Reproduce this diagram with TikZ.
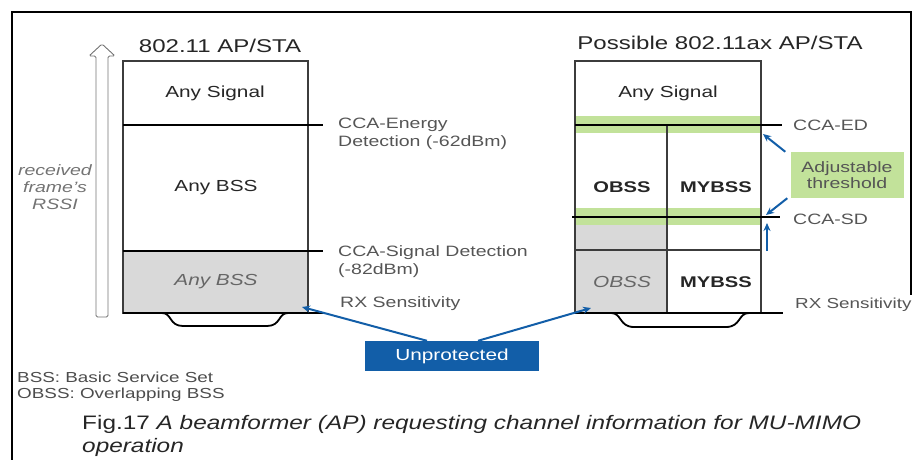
\documentclass[tikz,border=0pt]{standalone}
\usepackage{fontspec}
\setmainfont[FakeStretch=1.3]{Liberation Sans}
\newfontfamily\capfont[FakeStretch=1.25]{Liberation Sans}
\usepackage{tikz}
\usetikzlibrary{arrows}
\usetikzlibrary{arrows.meta}

\definecolor{cblue}{RGB}{18,94,168}
\definecolor{cgreen}{RGB}{194,226,154}
\definecolor{cgray}{RGB}{217,217,217}
\definecolor{cline}{RGB}{60,60,60}
\definecolor{clabel}{RGB}{85,85,85}

\begin{document}
\begin{tikzpicture}[x=1pt,y=-1pt]
	\useasboundingbox (0,0) rectangle (914,460);
	
	\tikzstyle{title}=[font=\fontsize{18.5}{20}\selectfont,text=black!85,anchor=base,inner sep=0pt]
	\tikzstyle{boxtext}=[font=\fontsize{16}{18}\selectfont,text=black!85,inner sep=0pt]
	\tikzstyle{boxbold}=[font=\fontsize{15.5}{18}\bfseries,text=black!85,inner sep=0pt]
	\tikzstyle{boxital}=[font=\fontsize{16}{18}\itshape,text=black!60,inner sep=0pt]
	\tikzstyle{names}=[font=\fontsize{15}{18}\selectfont,text=clabel,anchor=west,align=left,inner sep=0pt]
	\tikzstyle{cca}=[line width=2.2pt,black]
	\tikzstyle{outline}=[line width=1.3pt,cline]
	\tikzstyle{bluearrow}=[-{Stealth[length=8pt,width=7pt]},line width=2pt,cblue]
	
	%Frame
	\draw[line width=2pt] (12,460) -- (12,12) -- (911,12) -- (911,295);
	
	%RSSI Arrow
	\draw[line width=0.9pt,black!55,rounded corners=1.5pt] (96,317) -- (96,56) -- (89,56) -- (102,44) -- (115,56) -- (108,56) -- (108,317) -- cycle;
	\node[font=\fontsize{15}{17}\itshape,text=black!55,align=center,inner sep=0pt] (rssi) at (55,187) {received\\frame's\\RSSI};
	
	%Left Column - Fills
	\fill[cgray] (123,251) rectangle (308,313);
	\draw[outline] (123,61) rectangle (308,313);
	
	%Left Column - Levels
	\foreach \y in {125,251}
	\draw[cca] (123,\y) -- (323,\y);
	\draw[cca] (123,313) -- (323,313);
	\draw[line width=1.8pt] (162,313) .. controls (172,313) and (169,326) .. (183,326) -- (267,326) .. controls (281,326) and (278,313) .. (288,313);
	
	%Left Column - Texts
	\node[title] (L-title) at (220,53) {802.11 AP/STA};
	\node[boxtext] (L-any) at (215,93) {Any Signal};
	\node[boxtext] (L-bss) at (216,188) {Any BSS};
	\node[boxital] (L-low) at (216,282) {Any BSS};
	
	%Left Column - Labels
	\node[names] (L-ed) at (338,134) {CCA-Energy\\Detection (-62dBm)};
	\node[names] (L-sd) at (338,262) {CCA-Signal Detection\\(-82dBm)};
	\node[names] (L-rx) at (340,304) {RX Sensitivity};
	
	%Right Column - Fills
	\fill[cgray] (575,217) rectangle (667,313);
	\foreach \y in {116,208}
	\fill[cgreen] (575,\y) rectangle (761,\y+17);
	\draw[outline] (575,61) rectangle (761,313);
	\draw[outline] (667,125) -- (667,313);
	\draw[outline] (575,250) -- (761,250);
	
	%Right Column - Levels
	\draw[cca] (575,125) -- (782,125);
	\draw[cca] (572,217) -- (780,217);
	\draw[cca] (575,313) -- (783,313);
	\draw[line width=1.8pt] (611,313) .. controls (622,313) and (619,327) .. (634,327) -- (726,327) .. controls (741,327) and (738,313) .. (749,313);
	
	%Right Column - Texts
	\node[title] (R-title) at (720,50) {Possible 802.11ax AP/STA};
	\node[boxtext] (R-any) at (668,93) {Any Signal};
	\foreach \name/\x in {OBSS/622, MYBSS/716}
	\node[boxbold] (R-\name-up) at (\x,187) {\name};
	\node[boxital] (R-OBSS-low) at (622,282) {OBSS};
	\node[boxbold] (R-MYBSS-low) at (716,282) {MYBSS};
	
	%Right Column - Labels
	\foreach \name/\y in {CCA-ED/125, CCA-SD/219}
	\node[names] (R-\name) at (793,\y) {\name};
	\node[names,font=\fontsize{14.5}{18}\selectfont] (R-rx) at (795,305) {RX Sensitivity};
	
	%Adjustable threshold
	\node[fill=cgreen,minimum width=113pt,minimum height=46pt,align=center,inner sep=0pt,
	font=\fontsize{15}{16.5}\selectfont,text=clabel] (adj) at (847,175) {Adjustable\\threshold};
	\coordinate (ed-tip) at (763,134);
	\coordinate (sd-tip) at (766,215);
	\coordinate (sd-foot) at (767,251);
	\coordinate (sd-up) at (767,223);
	\draw[bluearrow] ([xshift=-5pt]adj.north west) -- (ed-tip);
	\draw[bluearrow] ([xshift=-3pt]adj.south west) -- (sd-tip);
	\draw[bluearrow] (sd-foot) -- (sd-up);
	
	%Unprotected
	\node[fill=cblue,minimum width=174pt,minimum height=30pt,inner sep=0pt,
	font=\fontsize{16}{18}\selectfont,text=white] (unp) at (452,356) {Unprotected};
	\coordinate (L-tip) at (302,307);
	\coordinate (R-tip) at (591,308);
	\draw[bluearrow] ([xshift=-25pt]unp.north) -- (L-tip);
	\draw[bluearrow] ([xshift=26pt]unp.north) -- (R-tip);
	
	%Legend
	\foreach \name/\y in {BSS: Basic Service Set/377, OBSS: Overlapping BSS/395}
	\node[names,font=\fontsize{14.5}{17}\selectfont,text=black!70] (leg-\y) at (17,\y) {\name};
	
	%Caption
	\node[anchor=west,inner sep=0pt,font=\capfont\fontsize{19.5}{22}\selectfont,text=black!85] (cap1) at (82,424) {Fig.17 \textit{A beamformer (AP) requesting channel information for MU-MIMO}};
	\node[anchor=west,inner sep=0pt,font=\capfont\fontsize{19.5}{22}\selectfont\itshape,text=black!85] (cap2) at (82,447) {operation};
\end{tikzpicture}
\end{document}
